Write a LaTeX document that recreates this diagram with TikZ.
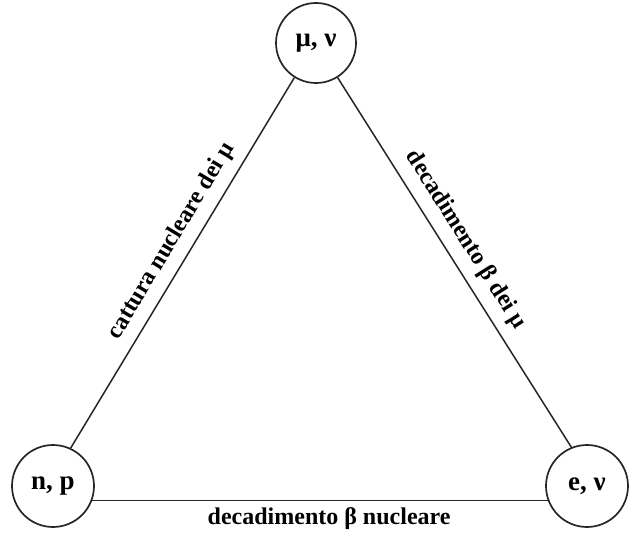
\documentclass[tikz,border=0pt]{standalone}
\usepackage{fontspec}
\setmainfont{Liberation Serif}
\begin{document}
\begin{tikzpicture}[x=1pt,y=-1pt,
  particle/.style={draw=black!85,line width=1.7pt,circle,minimum size=80pt,inner sep=0pt,
    font=\bfseries\fontsize{27}{30}\selectfont},
  link/.style={draw=black!85,line width=1.5pt},
  lbl/.style={font=\bfseries\fontsize{24}{27}\selectfont,inner sep=0pt}]
\useasboundingbox (0,0) rectangle (631,534);
\node[particle] (top) at (316,43) {μ, ν};
\node[particle,minimum size=82pt] (np) at (53,486) {n, p};
\node[particle,minimum size=82pt] (ev) at (587,486) {e, ν};
\draw[link] (np.65) -- node[lbl,sloped,above=9pt,pos=0.53] {cattura nucleare dei μ} (top.238);
\draw[link] (top.-58) -- node[lbl,sloped,above=10pt,pos=0.47] {decadimento β dei μ} (ev.112);
\draw[link] (np.-20) -- node[lbl,below=7pt,pos=0.52] {decadimento β nucleare} (ev.200);
\end{tikzpicture}
\end{document}
